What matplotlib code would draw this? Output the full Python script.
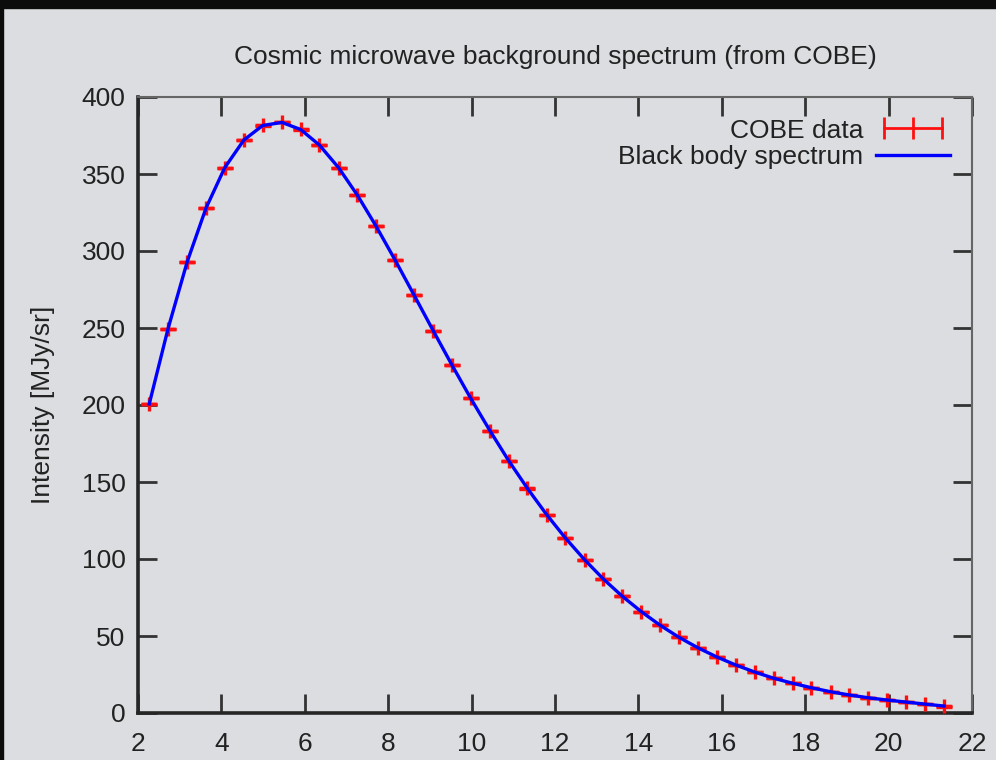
import matplotlib
matplotlib.use("Agg")
import matplotlib.pyplot as plt
from matplotlib.lines import Line2D
from matplotlib.patches import Rectangle
from matplotlib.legend_handler import HandlerLine2D

plt.rcParams['font.family'] = ['Liberation Sans', 'DejaVu Sans']

# Frequency [1/cm]
freq = [2.27, 2.72, 3.18, 3.63, 4.08, 4.54, 4.99, 5.45, 5.90, 6.35, 6.81, 7.26,
        7.71, 8.17, 8.62, 9.08, 9.53, 9.98, 10.44, 10.89, 11.34, 11.80, 12.25,
        12.71, 13.16, 13.61, 14.07, 14.52, 14.97, 15.43, 15.88, 16.34, 16.79,
        17.24, 17.70, 18.15, 18.61, 19.06, 19.51, 19.97, 20.42, 20.87, 21.33]
# COBE measured intensity [MJy/sr]
cobe = [200.7, 249.5, 293.0, 327.8, 354.1, 372.1, 381.5, 383.5, 378.9, 368.8,
        354.1, 336.3, 316.1, 293.9, 271.4, 248.2, 225.9, 204.3, 183.3, 163.8,
        145.8, 128.8, 113.6, 99.5, 87.0, 75.9, 65.8, 57.0, 49.2, 42.3, 36.4,
        31.1, 26.6, 22.6, 19.3, 16.4, 13.8, 11.7, 9.9, 8.4, 7.1, 5.8, 4.5]
cobe_err = [0.005, 0.009, 0.015, 0.023, 0.022, 0.021, 0.018, 0.018, 0.016, 0.014,
            0.013, 0.012, 0.011, 0.010, 0.011, 0.012, 0.014, 0.016, 0.018, 0.022,
            0.022, 0.023, 0.023, 0.023, 0.022, 0.021, 0.020, 0.019, 0.019, 0.019,
            0.021, 0.023, 0.026, 0.028, 0.030, 0.032, 0.033, 0.035, 0.041, 0.055,
            0.088, 0.155, 0.282]
# Black body curve [MJy/sr]
blackbody = [200.7, 249.5, 293.0, 327.8, 354.1, 372.1, 381.5, 383.5, 378.9, 368.8,
             354.1, 336.3, 316.1, 293.9, 271.4, 248.2, 225.9, 204.3, 183.3, 163.8,
             145.8, 128.8, 113.6, 99.5, 87.0, 75.9, 65.8, 57.0, 49.2, 42.3, 36.4,
             31.1, 26.6, 22.6, 19.3, 16.4, 13.8, 11.7, 9.9, 8.4, 7.1, 5.8, 4.5]

xticks = [2, 4, 6, 8, 10, 12, 14, 16, 18, 20, 22]
yticks = [0, 50, 100, 150, 200, 250, 300, 350, 400]

BG = '#dcdde0'
FS = 19
fig = plt.figure(figsize=(9.96, 7.6), dpi=100, facecolor=BG)
ax = fig.add_axes([138/996, 47/760, 834/996, 616/760])
ax.set_facecolor(BG)

ax.errorbar(freq, cobe, yerr=cobe_err, fmt='+', color='#ff1010', ms=10.5, mew=2.4,
            elinewidth=1.5, capsize=6, capthick=2.2, zorder=3)
ax.plot(freq, blackbody, color='#0000ff', lw=2.4, zorder=4)

ax.set_xlim(2, 22)
ax.set_ylim(0, 400)
ax.set_xticks(xticks)
ax.set_yticks(yticks)
ax.tick_params(direction='in', length=14, width=2, color='#333333',
               labelsize=FS, top=True, right=True, labelcolor='#222222')
ax.tick_params(axis='x', pad=14)
ax.tick_params(axis='y', pad=9)

for s in ['left', 'bottom']:
    ax.spines[s].set_linewidth(2.6)
    ax.spines[s].set_color('#262626')
for s in ['top', 'right']:
    ax.spines[s].set_linewidth(1.5)
    ax.spines[s].set_color('#666666')

ax.set_title('Cosmic microwave background spectrum (from COBE)', fontsize=FS,
             pad=24, color='#222222')
ax.set_ylabel('Intensity [MJy/sr]', fontsize=FS, color='#222222')
ax.yaxis.set_label_coords(-0.099, 0.5)

h_data = Line2D([0], [0], color='#ff1010', lw=2, marker='|', ms=16, mew=2)
h_bb = Line2D([0], [0], color='#0000ff', lw=2.4)
leg = ax.legend([h_data, h_bb], ['COBE data', 'Black body spectrum'],
                loc='upper right', frameon=False, markerfirst=False,
                fontsize=FS, handlelength=2.8, handletextpad=0.5,
                labelspacing=0.1, borderaxespad=0.42,
                handler_map={h_data: HandlerLine2D(numpoints=3)})
for t in leg.get_texts():
    t.set_color('#222222')

# dark photo border
fig.patches.append(Rectangle((0, 1 - 8/760), 1, 8/760, transform=fig.transFigure,
                             color='#0c0c0c', zorder=10))
fig.patches.append(Rectangle((0, 0), 3/996, 1, transform=fig.transFigure,
                             color='#0c0c0c', zorder=10))

fig.savefig('out.png', dpi=100, facecolor=BG)
